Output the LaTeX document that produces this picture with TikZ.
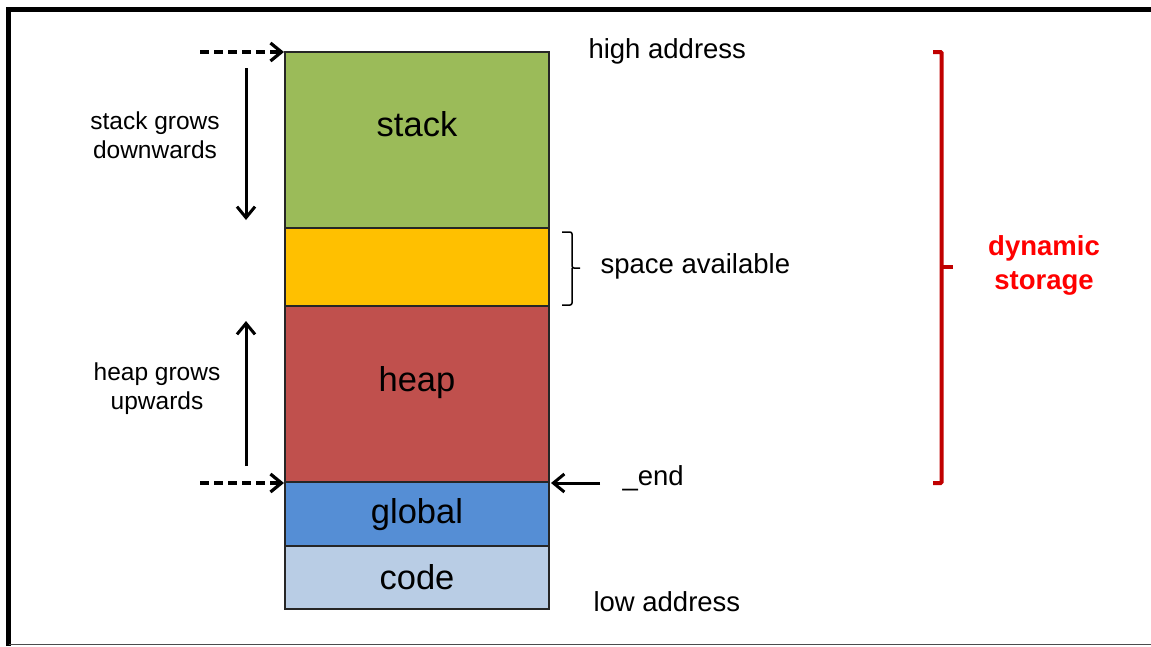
\documentclass[tikz,border=0pt]{standalone}
\usepackage{fontspec}
\setmainfont{Liberation Sans}
\usetikzlibrary{arrows.meta}
\definecolor{cstack}{HTML}{9BBB59}
\definecolor{cspace}{HTML}{FFC000}
\definecolor{cheap}{HTML}{C0504D}
\definecolor{cglobal}{HTML}{558ED5}
\definecolor{ccode}{HTML}{B9CDE5}
\definecolor{bracketred}{HTML}{C00000}
\definecolor{textred}{HTML}{FF0000}
\tikzset{
  block/.style={draw=black!85, line width=1.4pt, inner sep=0pt},
  bigtext/.style={font=\fontsize{34.5}{40}\selectfont},
  midtext/.style={font=\fontsize{27.5}{33}\selectfont},
  smalltext/.style={font=\fontsize{24.5}{29}\selectfont, align=center},
  tip/.style={-{Straight Barb[length=11pt,width=18pt]}},
  dasharrow/.style={tip, line width=3.2pt, dash pattern=on 9pt off 5pt},
  solidarrow/.style={tip, line width=3pt},
}
\begin{document}
\begin{tikzpicture}[x=1pt,y=-1pt]
\useasboundingbox (0,0) rectangle (1151,646);
% frame
\draw[line width=5pt] (8.5,646) -- (8.5,9.5) -- (1151,9.5);
\draw[line width=1.5pt, black!70] (8.5,644.5) -- (1151,644.5);
% memory blocks
\path[block, fill=cstack]  (285,52)  rectangle (549,228);
\path[block, fill=cspace]  (285,228) rectangle (549,306);
\path[block, fill=cheap]   (285,306) rectangle (549,482);
\path[block, fill=cglobal] (285,482) rectangle (549,546);
\path[block, fill=ccode]   (285,546) rectangle (549,609);
\node[bigtext] (stack) at (417,124) {stack};
\node[bigtext] (heap) at (417,383) {heap};
\node[bigtext] (global) at (417,515) {global};
\node[bigtext] (code) at (417,577) {code};
% coordinates
\coordinate (topleft) at (284,52);
\coordinate (endleft) at (284,483);
\coordinate (endright) at (551,483);
\coordinate (dstart1) at (200,52);
\coordinate (dstart2) at (200,483);
\coordinate (endstart) at (600,483);
\coordinate (downstart) at (246,68);
\coordinate (downend) at (246,220);
\coordinate (upstart) at (246,466);
\coordinate (upend) at (246,321);
% arrows
\draw[dasharrow] (dstart1) -- (topleft);
\draw[dasharrow] (dstart2) -- (endleft);
\draw[solidarrow] (downstart) -- (downend);
\draw[solidarrow] (upstart) -- (upend);
\draw[solidarrow] (endstart) -- (endright);
% labels
\node[midtext, anchor=west] (high) at (585,51) {high address};
\node[midtext, anchor=west] (low) at (590,602) {low address};
\node[midtext, anchor=west] (space) at (597,266) {space available};
\node[midtext, anchor=west] (end) at (619,478) {\_end};
\node[smalltext] (sgrows) at (155,135) {stack grows\\downwards};
\node[smalltext] (hgrows) at (157,389) {heap grows\\upwards};
\node[align=center, text=textred, font=\fontsize{27.5}{34}\bfseries\selectfont] (dyn) at (1044,265) {dynamic\\storage};
% small brace
\draw[line width=1.5pt, rounded corners=2pt] (562,232) -- (572,232) -- (572,268) -- (580,268);
\draw[line width=1.5pt, rounded corners=2pt] (562,305) -- (572,305) -- (572,268);
% red bracket
\draw[bracketred, line width=4pt, rounded corners=1pt] (933,52) -- (941.5,52) -- (941.5,483) -- (933,483);
\draw[bracketred, line width=4pt] (941.5,267) -- (953,267);
\end{tikzpicture}
\end{document}
